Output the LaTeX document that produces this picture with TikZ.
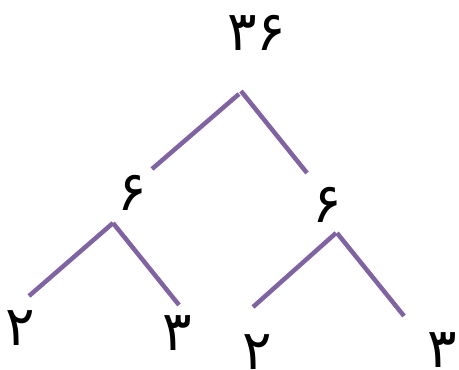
\documentclass[tikz,border=0pt]{standalone}
\usepackage{fontspec}
\newfontfamily\arabicfont[Script=Arabic]{DejaVu Sans}
\definecolor{branchcol}{RGB}{128,100,162}
\begin{document}
\begin{tikzpicture}[x=1pt,y=-1pt,
  num/.style={font=\arabicfont\fontsize{55}{60}\selectfont, inner sep=0pt},
  branch/.style={draw=branchcol, line width=4.5pt}]
\useasboundingbox (0,0) rectangle (459,370);
\node[num] (n36) at (257,33) {۳۶};
\node[num] (l6) at (132,193) {۶};
\node[num] (r6) at (327,205) {۶};
\node[num] (l2) at (20,328) {۲};
\node[num] (l3) at (177,333) {۳};
\node[num] (r2) at (257,352) {۲};
\node[num] (r3) at (442,350) {۳};
\coordinate (a1a) at (152,169); \coordinate (a1b) at (239,94);
\coordinate (a1c) at (241,91); \coordinate (a1d) at (307,173);
\coordinate (a2a) at (29,296); \coordinate (a2b) at (113,223);
\coordinate (a2c) at (113,223); \coordinate (a2d) at (179,305);
\coordinate (a3a) at (253,307); \coordinate (a3b) at (336,233);
\coordinate (a3c) at (337,233); \coordinate (a3d) at (404,316);
\draw[branch] (a1a) -- (a1b);
\draw[branch] (a1c) -- (a1d);
\draw[branch] (a2a) -- (a2b);
\draw[branch] (a2c) -- (a2d);
\draw[branch] (a3a) -- (a3b);
\draw[branch] (a3c) -- (a3d);
\end{tikzpicture}
\end{document}
